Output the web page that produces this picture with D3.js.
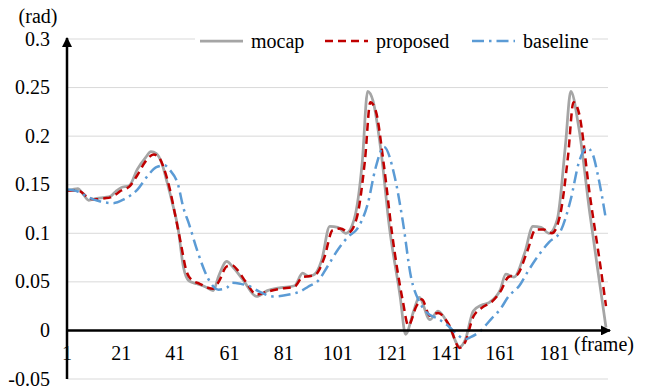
<!DOCTYPE html>
<html>
<head>
<meta charset="utf-8">
<script src="https://cdn.jsdelivr.net/npm/d3@7"></script>
<style>
  body { margin: 0; background: #fff; }
  svg text { font-family: "Liberation Serif", serif; fill: #000; }
</style>
</head>
<body>
<div id="chart"></div>
<script>
// data
var mocapFrames = [1,3,5,7,9,12,15,17,19,21,24,27,30,32,34,36,38,40,42,44,46,49,52,55,57,60,62,66,71,75,80,85,88,90,92,95,98,101,104,107,110,112,114,117,120,124,126,129,131,135,138,142,146,148,151,154,157,161,163,166,170,173,176,179,182,185,187,190,194,198,200];
var mocapValues = [0.144,0.145,0.146,0.140,0.134,0.136,0.137,0.138,0.143,0.147,0.149,0.166,0.178,0.184,0.182,0.172,0.152,0.130,0.105,0.065,0.051,0.048,0.045,0.041,0.056,0.071,0.066,0.052,0.035,0.041,0.044,0.046,0.059,0.056,0.057,0.072,0.107,0.106,0.100,0.114,0.173,0.246,0.236,0.183,0.107,0.035,-0.004,0.020,0.034,0.011,0.020,0.005,-0.017,-0.010,0.020,0.026,0.029,0.042,0.058,0.055,0.080,0.107,0.106,0.100,0.114,0.190,0.246,0.208,0.121,0.042,0.003];

var proposedFrames = [1,3,5,7,9,12,15,17,19,21,24,27,30,33,35,37,39,41,43,45,47,50,53,55,57,60,62,64,67,71,75,80,85,88,91,93,96,99,102,105,108,111,113,115,118,121,125,127,130,132,135,138,142,146,148,151,154,158,161,164,167,171,174,177,180,183,186,188,190,194,198,200];
var proposedValues = [0.144,0.144,0.144,0.141,0.136,0.135,0.136,0.137,0.140,0.144,0.148,0.160,0.174,0.181,0.178,0.165,0.145,0.118,0.090,0.062,0.052,0.048,0.044,0.043,0.050,0.066,0.067,0.062,0.050,0.037,0.040,0.043,0.045,0.055,0.056,0.058,0.075,0.103,0.105,0.101,0.116,0.175,0.235,0.226,0.170,0.100,0.030,0.005,0.025,0.032,0.015,0.018,0.006,-0.018,-0.012,0.014,0.023,0.030,0.040,0.055,0.057,0.082,0.104,0.104,0.100,0.118,0.180,0.235,0.224,0.140,0.065,0.025];

var baselineFrames = [1,5,9,13,18,22,27,31,34,37,39,42,44,46,49,52,54,57,60,62,65,68,72,77,83,87,90,94,97,101,105,108,112,115,118,122,125,128,131,134,138,142,145,148,150,153,158,161,164,168,171,174,179,183,187,190,193,195,197,200];
var baselineValues = [0.145,0.143,0.137,0.133,0.131,0.135,0.145,0.160,0.168,0.170,0.165,0.150,0.126,0.110,0.083,0.060,0.049,0.042,0.044,0.049,0.048,0.046,0.040,0.035,0.037,0.040,0.045,0.052,0.065,0.083,0.097,0.104,0.130,0.168,0.189,0.158,0.112,0.055,0.030,0.018,0.012,0.004,-0.004,-0.009,-0.007,-0.002,0.013,0.022,0.035,0.046,0.060,0.073,0.091,0.101,0.135,0.173,0.188,0.182,0.160,0.114];

var yTicks = [-0.05,0,0.05,0.1,0.15,0.2,0.25,0.3];
var xTicks = [1,21,41,61,81,101,121,141,161,181];
var seriesNames = ["mocap","proposed","baseline"];

var width = 650, height = 388;
var plotLeft = 67, plotRight = 606, plotTop = 39, plotBottom = 379;
var fs = "20px";

var svg = d3.select("#chart").append("svg")
    .attr("width", width)
    .attr("height", height);

var x = d3.scaleLinear().domain([1,200]).range([plotLeft, plotRight]);
var y = d3.scaleLinear().domain([-0.05,0.3]).range([plotBottom, plotTop]);

// gridlines
svg.append("g").selectAll("line")
  .data(yTicks.filter(function(d){ return d !== 0; }))
  .enter().append("line")
  .attr("x1", plotLeft).attr("x2", 608)
  .attr("y1", function(d){ return y(d); })
  .attr("y2", function(d){ return y(d); })
  .attr("stroke", "#d9d9d9")
  .attr("stroke-width", 1);

// y tick labels
svg.append("g").selectAll("text")
  .data(yTicks)
  .enter().append("text")
  .attr("x", 50)
  .attr("y", function(d){ return y(d); })
  .attr("dy", "0.33em")
  .attr("text-anchor", "end")
  .style("font-size", fs)
  .text(function(d){ return String(+d.toFixed(2)); });

// x tick labels
svg.append("g").selectAll("text")
  .data(xTicks)
  .enter().append("text")
  .attr("x", function(d){ return x(d); })
  .attr("y", 360)
  .attr("text-anchor", "middle")
  .style("font-size", fs)
  .text(function(d){ return d; });

svg.append("text").attr("x", 38).attr("y", 23).attr("text-anchor", "middle")
  .style("font-size", fs).text("(rad)");
svg.append("text").attr("x", 604).attr("y", 351).attr("text-anchor", "middle")
  .style("font-size", fs).text("(frame)");

// series
var styles = {
  mocap:    { color: "#a5a5a5", dash: null,          w: 2.75 },
  proposed: { color: "#c00000", dash: "8,5",         w: 2.5 },
  baseline: { color: "#5b9bd5", dash: "12,5,2.5,5",  w: 2.5 }
};
var series = [
  { name: "mocap", f: mocapFrames, v: mocapValues },
  { name: "proposed", f: proposedFrames, v: proposedValues },
  { name: "baseline", f: baselineFrames, v: baselineValues }
];

var line = d3.line()
  .x(function(d){ return x(d[0]); })
  .y(function(d){ return y(d[1]); })
  .curve(d3.curveMonotoneX);

series.forEach(function(s){
  var pts = s.f.map(function(fr, i){ return [fr, s.v[i]]; });
  svg.append("path")
    .datum(pts)
    .attr("d", line)
    .attr("fill", "none")
    .attr("stroke", styles[s.name].color)
    .attr("stroke-width", styles[s.name].w)
    .attr("stroke-dasharray", styles[s.name].dash)
    .attr("stroke-linejoin", "round");
});

// axes with arrows
var defs = svg.append("defs");
defs.append("marker")
  .attr("id", "arrow")
  .attr("viewBox", "0 0 10 10")
  .attr("refX", 9).attr("refY", 5)
  .attr("markerWidth", 4).attr("markerHeight", 4)
  .attr("orient", "auto")
  .attr("markerUnits", "strokeWidth")
  .append("path").attr("d", "M0,0 L10,5 L0,10 z").attr("fill", "#000");

svg.append("line")
  .attr("x1", plotLeft).attr("x2", plotLeft)
  .attr("y1", plotBottom).attr("y2", 38)
  .attr("stroke", "#000").attr("stroke-width", 2.5)
  .attr("marker-end", "url(#arrow)");
svg.append("line")
  .attr("x1", plotLeft - 1).attr("x2", 610)
  .attr("y1", y(0)).attr("y2", y(0))
  .attr("stroke", "#000").attr("stroke-width", 2.5)
  .attr("marker-end", "url(#arrow)");

// legend
var legend = svg.append("g");
legend.append("rect")
  .attr("x", 195).attr("y", 30).attr("width", 397).attr("height", 24)
  .attr("fill", "#fff");
var legendPos = [200, 325, 472];
seriesNames.forEach(function(n, i){
  var lx = legendPos[i];
  legend.append("line")
    .attr("x1", lx).attr("x2", lx + 43)
    .attr("y1", 41).attr("y2", 41)
    .attr("stroke", styles[n].color)
    .attr("stroke-width", styles[n].w)
    .attr("stroke-dasharray", styles[n].dash);
  legend.append("text")
    .attr("x", lx + 51).attr("y", 48)
    .style("font-size", fs)
    .text(n);
});
</script>
</body>
</html>
